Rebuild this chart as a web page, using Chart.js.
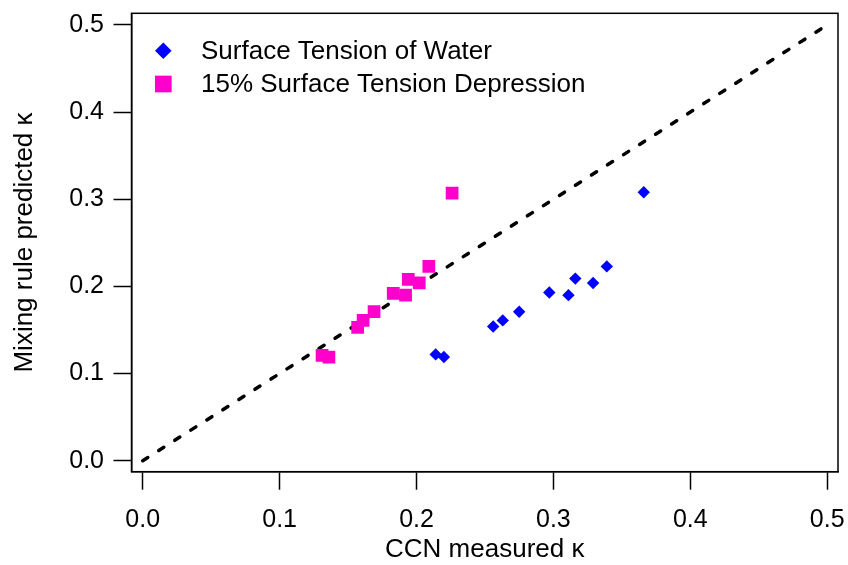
<!DOCTYPE html>
<html>
<head>
<meta charset="utf-8">
<script src="https://cdn.jsdelivr.net/npm/chart.js@4.4.1/dist/chart.umd.min.js"></script>
<style>
  html, body { margin: 0; padding: 0; background: #fff; }
  #wrap { width: 848px; height: 565px; }
</style>
</head>
<body>
<div id="wrap"><canvas id="kappaChart"></canvas></div>
<script>
// CCN-derived kappa vs. mixing-rule kappa, two surface tension assumptions

const seriesLabels = ['Surface Tension of Water', '15% Surface Tension Depression'];

const measuredWater = [0.214, 0.220, 0.256, 0.263, 0.275, 0.297, 0.311, 0.316, 0.329, 0.339, 0.366];
const predictedWater = [0.122, 0.119, 0.154, 0.161, 0.171, 0.193, 0.190, 0.209, 0.204, 0.223, 0.308];

const measuredDepressed = [0.131, 0.136, 0.157, 0.161, 0.169, 0.183, 0.192, 0.194, 0.202, 0.209, 0.226];
const predictedDepressed = [0.121, 0.119, 0.153, 0.161, 0.171, 0.192, 0.190, 0.208, 0.204, 0.223, 0.307];

const oneToOne = [0, 0.5];
const tickValues = [0, 0.1, 0.2, 0.3, 0.4, 0.5];

const FONT = '"Liberation Sans", Arial, sans-serif';

function toPoints(xs, ys) {
    return xs.map((x, i) => ({ x: x, y: ys[i] }));
}

// frame around the plot area + legend inside it
const framePlugin = {
    id: 'frame',
    afterDraw(chart) {
        const { ctx, chartArea: a } = chart;
        ctx.save();
        ctx.strokeStyle = '#000';
        ctx.lineWidth = 1.5;
        ctx.strokeRect(a.left, a.top, a.right - a.left, a.bottom - a.top);

        const rows = [
            { ds: chart.data.datasets[0], radius: 8.3, y: 50.7 },
            { ds: chart.data.datasets[1], radius: 11.8, y: 84 }
        ];
        ctx.font = '26px ' + FONT;
        ctx.textBaseline = 'middle';
        ctx.textAlign = 'left';
        for (const r of rows) {
            ctx.fillStyle = r.ds.backgroundColor;
            Chart.helpers.drawPoint(ctx, { pointStyle: r.ds.pointStyle, radius: r.radius, rotation: 0, borderWidth: 0 }, 163.3, r.y);
            ctx.fillStyle = '#000';
            ctx.fillText(r.ds.label, 201, r.y + 1);
        }
        ctx.restore();
    }
};

const fixedTicks = (scale) => {
    scale.ticks = tickValues.map(v => ({ value: v }));
};

// no extra room for overhanging tick labels, the plot box is fixed
const noOverhang = (scale) => {
    scale.paddingLeft = 0;
    scale.paddingRight = 0;
    scale.paddingTop = 0;
    scale.paddingBottom = 0;
};

const axisCommon = {
    type: 'linear',
    afterBuildTicks: fixedTicks,
    border: { display: true, color: '#000', width: 1.5 },
    grid: { display: true, drawOnChartArea: false, drawTicks: true, tickLength: 18, tickWidth: 1.5, tickColor: '#000' },
    ticks: {
        color: '#000',
        font: { family: FONT, size: 25 },
        callback: (v) => Number(v).toFixed(1)
    },
    title: {
        display: true,
        color: '#000',
        font: { family: FONT, size: 26 }
    }
};

new Chart(document.getElementById('kappaChart'), {
    type: 'scatter',
    data: {
        datasets: [
            {
                label: seriesLabels[0],
                data: toPoints(measuredWater, predictedWater),
                pointStyle: 'rectRot',
                pointRadius: 6.2,
                pointHoverRadius: 6.2,
                backgroundColor: '#0000ff',
                borderWidth: 0,
                order: 2
            },
            {
                label: seriesLabels[1],
                data: toPoints(measuredDepressed, predictedDepressed),
                pointStyle: 'rect',
                pointRadius: 9,
                pointHoverRadius: 9,
                backgroundColor: '#ff00cc',
                borderWidth: 0,
                order: 1
            },
            {
                type: 'line',
                label: '1:1',
                data: toPoints(oneToOne, oneToOne),
                borderColor: '#000',
                borderWidth: 3.5,
                borderDash: [6, 13],
                borderCapStyle: 'round',
                pointRadius: 0,
                fill: false,
                order: 3
            }
        ]
    },
    options: {
        responsive: true,
        maintainAspectRatio: false,
        animation: false,
        events: [],
        layout: { padding: { top: 13.3, right: 10, left: 0, bottom: 0 } },
        plugins: {
            legend: { display: false },
            tooltip: { enabled: false }
        },
        scales: {
            x: {
                ...axisCommon,
                position: 'bottom',
                min: -0.0082,
                max: 0.5079,
                ticks: { ...axisCommon.ticks, padding: 15, maxRotation: 0 },
                title: { ...axisCommon.title, text: 'CCN measured κ', padding: { top: 0, bottom: 0 } },
                afterFit: (scale) => { scale.height = 93.3; noOverhang(scale); }
            },
            y: {
                ...axisCommon,
                position: 'left',
                min: -0.0126,
                max: 0.5134,
                ticks: { ...axisCommon.ticks, padding: 9.5 },
                title: { ...axisCommon.title, text: 'Mixing rule predicted κ', padding: { top: 9, bottom: 0 } },
                afterFit: (scale) => { scale.width = 131.5; noOverhang(scale); }
            }
        }
    },
    plugins: [framePlugin]
});
</script>
</body>
</html>
